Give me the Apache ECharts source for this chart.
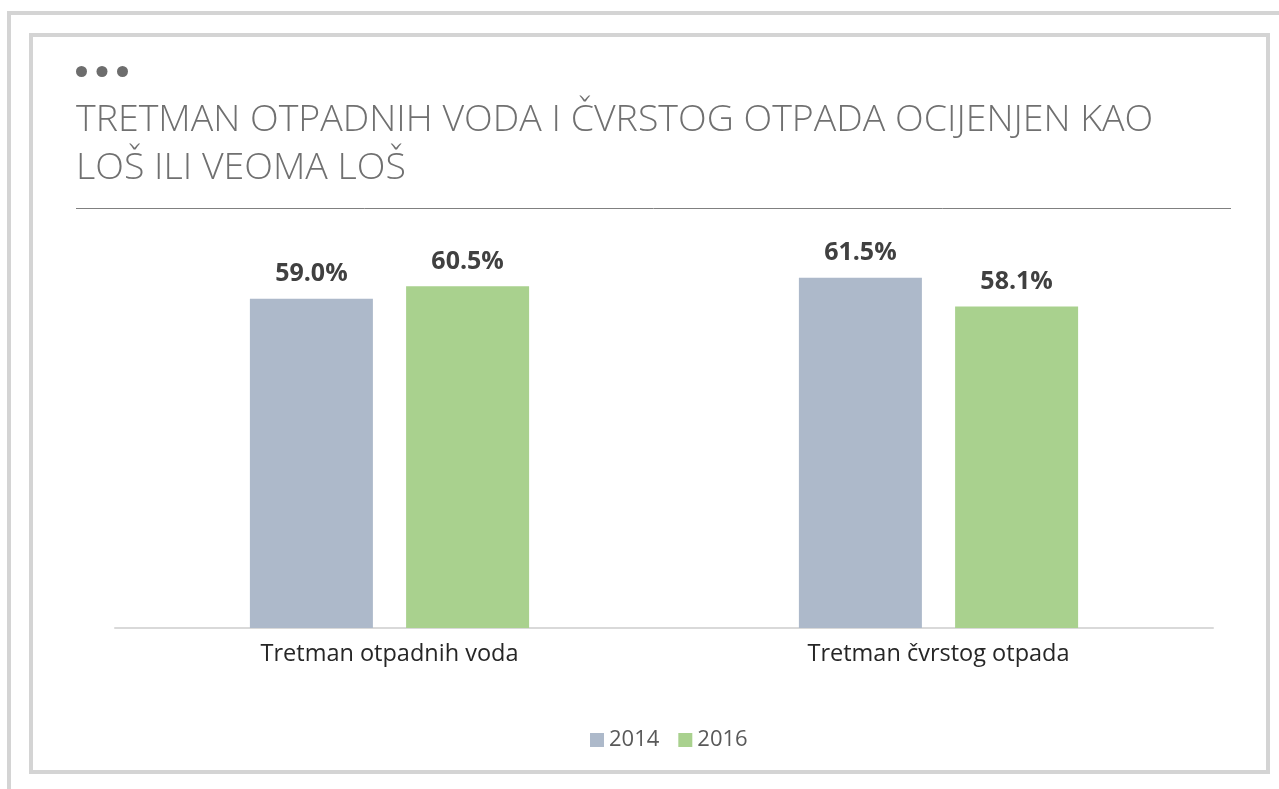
<!DOCTYPE html>
<html>
<head>
<meta charset="utf-8">
<title>Tretman otpadnih voda i čvrstog otpada</title>
<script src="https://cdn.jsdelivr.net/npm/echarts@6/dist/echarts.min.js"></script>
<style>
  html, body { margin: 0; padding: 0; background: #fff; }
  #chart { width: 1279px; height: 789px; }
</style>
</head>
<body>
<div id="chart"></div>
<script>
// data
const categories = ["Tretman otpadnih voda", "Tretman čvrstog otpada"];
const seriesNames = ["2014", "2016"];
const values2014 = [59.0, 61.5];
const values2016 = [60.5, 58.1];
const seriesColors = ["#adb9ca", "#a9d18e"];

const titleText = "TRETMAN OTPADNIH VODA I ČVRSTOG OTPADA OCIJENJEN KAO\nLOŠ ILI VEOMA LOŠ";

const chart = echarts.init(document.getElementById("chart"));

const barLabel = {
  show: true,
  position: "top",
  distance: 12,
  fontFamily: "Open Sans",
  fontWeight: "bold",
  fontSize: 25,
  color: "#404040",
  formatter(p) {
    return p.value.toFixed(1) + "%";
  }
};

const option = {
  backgroundColor: "#fff",
  animation: false,
  title: {
    text: titleText,
    left: 76,
    top: 96,
    padding: 0,
    textStyle: {
      fontFamily: "Open Sans",
      fontWeight: 300,
      fontSize: 37.5,
      lineHeight: 48,
      color: "#707070"
    }
  },
  graphic: [
    // outer frame
    { type: "rect", shape: { x: 9, y: 13, width: 1300, height: 800 },
      style: { fill: null, stroke: "#d4d4d4", lineWidth: 4 }, silent: true },
    // inner frame
    { type: "rect", shape: { x: 31, y: 35, width: 1237, height: 737 },
      style: { fill: null, stroke: "#d4d4d4", lineWidth: 4 }, silent: true },
    // three dots
    { type: "circle", shape: { cx: 81.5, cy: 71.5, r: 5.5 }, style: { fill: "#6d6d6d" } },
    { type: "circle", shape: { cx: 102, cy: 71.5, r: 5.5 }, style: { fill: "#6d6d6d" } },
    { type: "circle", shape: { cx: 122.5, cy: 71.5, r: 5.5 }, style: { fill: "#6d6d6d" } },
    // rule under title
    { type: "line", shape: { x1: 76, y1: 208.5, x2: 1231, y2: 208.5 },
      style: { stroke: "#808080", lineWidth: 1 } }
  ],
  legend: {
    left: 590,
    top: 729,
    padding: 0,
    itemWidth: 14,
    itemHeight: 14,
    itemGap: 19,
    icon: "rect",
    textStyle: {
      fontFamily: "Open Sans",
      fontSize: 22,
      lineHeight: 20,
      color: "#595959"
    },
    data: seriesNames
  },
  grid: {
    left: 115,
    right: 66,
    top: 206,
    height: 422,
    containLabel: false
  },
  xAxis: {
    type: "category",
    data: categories,
    axisTick: { show: false },
    axisLine: { lineStyle: { color: "#d9d9d9", width: 2 } },
    axisLabel: {
      margin: 14,
      fontFamily: "Open Sans",
      fontSize: 23.5,
      color: "#262626"
    }
  },
  yAxis: {
    type: "value",
    min: 20,
    max: 70,
    show: false,
    splitLine: { show: false }
  },
  series: [
    {
      name: seriesNames[0],
      type: "bar",
      data: values2014,
      barWidth: 123,
      barGap: "27%",
      itemStyle: { color: seriesColors[0] },
      label: barLabel
    },
    {
      name: seriesNames[1],
      type: "bar",
      data: values2016,
      barWidth: 123,
      barGap: "27%",
      itemStyle: { color: seriesColors[1] },
      label: barLabel
    }
  ]
};

chart.setOption(option);
</script>
</body>
</html>
